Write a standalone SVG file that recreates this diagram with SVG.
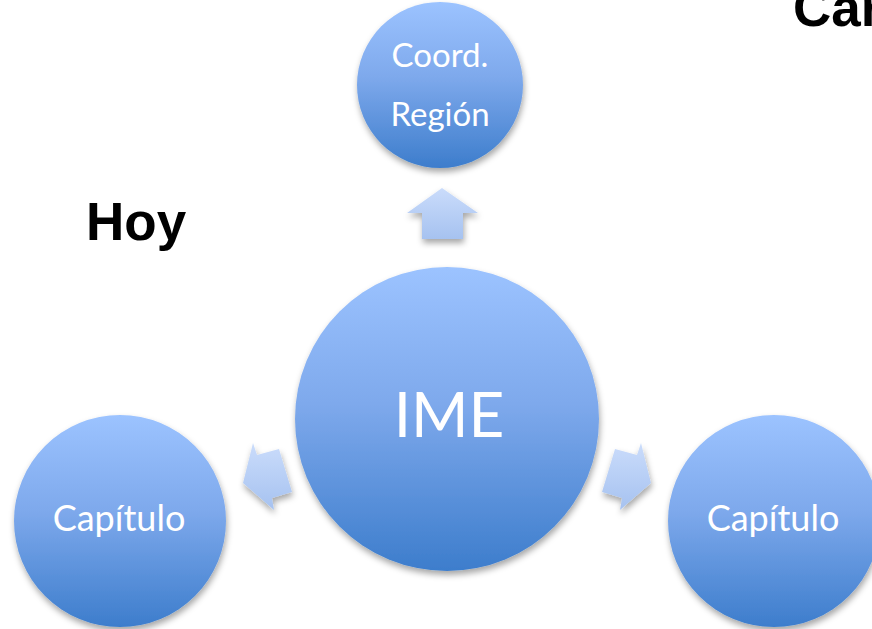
<svg xmlns="http://www.w3.org/2000/svg" width="872" height="629" viewBox="0 0 872 629">
<defs>
<linearGradient id="gC" x1="0" y1="0" x2="0" y2="1">
<stop offset="0" stop-color="#9cc3ff"/>
<stop offset="0.45" stop-color="#7ea9ec"/>
<stop offset="1" stop-color="#3d7dcc"/>
</linearGradient>
<linearGradient id="gA" x1="0" y1="0" x2="0" y2="1">
<stop offset="0" stop-color="#cadcfb"/>
<stop offset="1" stop-color="#a6c2f0"/>
</linearGradient>
<filter id="sh" x="-20%" y="-20%" width="140%" height="140%">
<feDropShadow dx="1" dy="4" stdDeviation="3" flood-color="#000" flood-opacity="0.35"/>
</filter>
</defs>
<style>
.c{fill:url(#gC);filter:url(#sh)}
.a{fill:url(#gA);filter:url(#sh)}
.t{font-family:Lato,"Open Sans",sans-serif;fill:#fff;text-anchor:middle}
.h{font-family:"Liberation Sans",Arial,sans-serif;font-weight:bold;fill:#000}
</style>
<rect width="872" height="629" fill="#fff"/>
<text class="h" x="86" y="240" font-size="53">Hoy</text>
<text class="h" x="793" y="26" font-size="53">Car</text>
<g id="connectors">
<polygon class="a" points="442,188 478,213 463,213 463,239 422,239 422,213 407,213"/>
<polygon class="a" points="243,483 253,443 257,455 279,449 292,492 272,498 274,510"/>
<polygon class="a" points="651,483 641,443 637,455 615,449 602,492 622,498 620,510"/>
</g>
<g id="coord">
<circle class="c" cx="440" cy="85" r="83"/>
<text class="t" x="440" y="67" font-size="33">Coord.</text>
<text class="t" x="440" y="126" font-size="33">Región</text>
</g>
<g id="ime">
<circle class="c" cx="447" cy="419" r="152"/>
<text class="t" x="449" y="437" font-size="62">IME</text>
</g>
<g id="cap-left">
<circle class="c" cx="120" cy="521" r="106"/>
<text class="t" x="119" y="531" font-size="36">Capítulo</text>
</g>
<g id="cap-right">
<circle class="c" cx="774" cy="521" r="106"/>
<text class="t" x="773" y="531" font-size="36">Capítulo</text>
</g>
</svg>
